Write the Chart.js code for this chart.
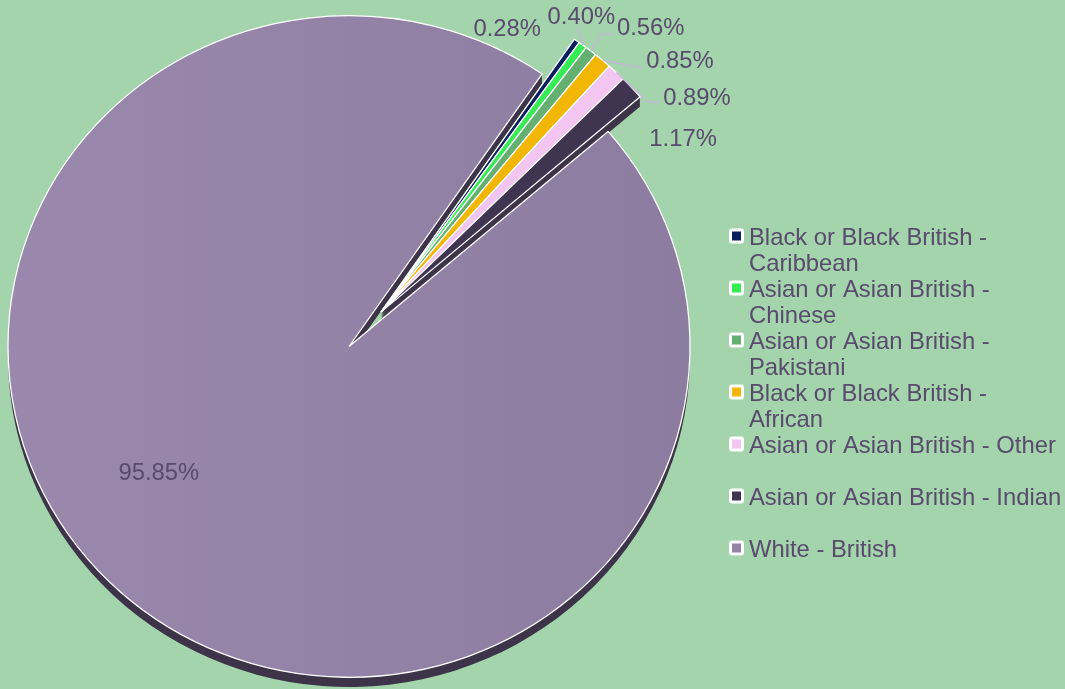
<!DOCTYPE html>
<html>
<head>
<meta charset="utf-8">
<script src="https://cdn.jsdelivr.net/npm/chart.js@4.4.1/dist/chart.umd.min.js"></script>
<style>
  html, body { margin: 0; padding: 0; background: #a3d4ab; }
  #wrap { width: 1065px; height: 689px; position: relative; }
</style>
</head>
<body>
<div id="wrap"><canvas id="ethnicPie"></canvas></div>
<script>
// data
const categories = [
    'Black or Black British - Caribbean',
    'Asian or Asian British - Chinese',
    'Asian or Asian British - Pakistani',
    'Black or Black British - African',
    'Asian or Asian British - Other',
    'Asian or Asian British - Indian',
    'White - British'
];
const shares = [0.28, 0.40, 0.56, 0.85, 0.89, 1.17, 95.85];
const sliceColours = ['#0b1f5e', '#35ec55', '#63b071', '#f2b705', '#f3c6f1', '#3f3550', '#9384a6'];

// look
const FONT = '23.8px "Liberation Sans", Arial, sans-serif';
const TEXT = '#594a6e';
const SQUASH = 0.97;      // pie is a touch flatter than round
const DEPTH = 10;         // height of the dark rim
const EXPLODE = 48;       // small slices pulled out together
// label placement: [angle shift from slice middle (deg), distance as part of radius]
const labelLayout = [[-8.6, 1.043], [-1.2, 1.187], [5.4, 1.289], [8.6, 1.284], [10.65, 1.257], [10.6, 1.156], [14.6, 0.668]];
// leader lines: [dx, dy from label centre, elbow length] or null
const leaders = [null, [-3, 13, 0], [-38, 7, 11], [-38, 8, 0], [-38, 6, 11], null, null];

function explodeVector(arcs, i) {
    if (i === arcs.length - 1) return { x: 0, y: 0 };
    const mid = (arcs[0].startAngle + arcs[arcs.length - 2].endAngle) / 2;
    return { x: Math.cos(mid) * EXPLODE, y: Math.sin(mid) * EXPLODE };
}

const pie3d = {
    id: 'pie3d',
    beforeDatasetsDraw(chart) {
        const ctx = chart.ctx;
        const arcs = chart.getDatasetMeta(0).data;
        const cy = arcs[0].y;
        ctx.save();
        ctx.translate(0, cy);
        ctx.scale(1, SQUASH);
        ctx.translate(0, -cy);

        // dark rim underneath
        ctx.fillStyle = '#3d3449';
        arcs.forEach((arc, i) => {
            const v = explodeVector(arcs, i);
            const x = arc.x + v.x, y = arc.y + v.y;
            ctx.beginPath();
            for (let d = 1; d <= DEPTH / SQUASH; d++) {
                ctx.moveTo(x, y + d);
                ctx.arc(x, y + d, arc.outerRadius, arc.startAngle, arc.endAngle);
                ctx.closePath();
            }
            ctx.fill();
        });

        arcs.forEach((arc, i) => {
            const v = explodeVector(arcs, i);
            ctx.save();
            ctx.translate(v.x, v.y);
            arc.draw(ctx);
            ctx.restore();
        });
        ctx.restore();
        return false;
    },
    afterDraw(chart) {
        const ctx = chart.ctx;
        const arcs = chart.getDatasetMeta(0).data;
        const cx = arcs[0].x, cy = arcs[0].y, r = arcs[0].outerRadius;
        const toScreen = (x, y) => ({ x: x, y: cy + (y - cy) * SQUASH });

        ctx.save();
        ctx.font = FONT;
        ctx.fillStyle = TEXT;
        ctx.textAlign = 'center';
        ctx.textBaseline = 'alphabetic';
        ctx.strokeStyle = '#c6b7d8';
        ctx.lineWidth = 1.5;

        arcs.forEach((arc, i) => {
            const mid = (arc.startAngle + arc.endAngle) / 2;
            const [shift, f] = labelLayout[i];
            const a = mid + shift * Math.PI / 180;
            const lx = cx + Math.cos(a) * r * f;
            const ly = cy + Math.sin(a) * r * f;
            ctx.fillText(shares[i].toFixed(2) + '%', lx, ly + 8.5);

            const ld = leaders[i];
            if (ld) {
                const v = explodeVector(arcs, i);
                const s = toScreen(arc.x + v.x + Math.cos(mid) * arc.outerRadius,
                                   arc.y + v.y + Math.sin(mid) * arc.outerRadius);
                const ex = lx + ld[0], ey = ly + ld[1];
                ctx.beginPath();
                ctx.moveTo(s.x, s.y);
                ctx.lineTo(ex - ld[2], ey);
                ctx.lineTo(ex, ey);
                ctx.stroke();
            }
        });

        // legend, each entry keeps two lines
        const legX = 729, textX = 749, top = 236, step = 52, lineH = 26;
        const maxW = 315;
        ctx.textAlign = 'left';
        chart.data.labels.forEach((label, i) => {
            const y = top + i * step;
            ctx.fillStyle = '#ffffff';
            ctx.beginPath();
            ctx.roundRect(legX, y - 7.5, 15, 15, 3);
            ctx.fill();
            ctx.fillStyle = sliceColours[i];
            ctx.fillRect(legX + 3, y - 4.5, 9, 9);

            const words = label.split(' ');
            const lines = [];
            let line = '';
            words.forEach(w => {
                const test = line ? line + ' ' + w : w;
                if (ctx.measureText(test).width > maxW && line) {
                    lines.push(line);
                    line = w;
                } else {
                    line = test;
                }
            });
            lines.push(line);
            ctx.fillStyle = TEXT;
            lines.forEach((t, k) => ctx.fillText(t, textX, y + k * lineH + 8.5));
        });
        ctx.restore();
    }
};

const ctx = document.getElementById('ethnicPie').getContext('2d');

new Chart(ctx, {
    type: 'pie',
    data: {
        labels: categories,
        datasets: [{
            data: shares,
            backgroundColor: (c) => {
                const area = c.chart.chartArea;
                if (c.dataIndex !== sliceColours.length - 1 || !area) return sliceColours[c.dataIndex];
                const g = c.chart.ctx.createLinearGradient(area.left, 0, area.right, 0);
                g.addColorStop(0, '#9a89ad');
                g.addColorStop(1, '#8c7ca0');
                return g;
            },
            borderColor: '#ffffff',
            borderWidth: 1.3,
            hoverOffset: 0
        }]
    },
    options: {
        responsive: true,
        maintainAspectRatio: false,
        animation: false,
        rotation: 34.5,
        radius: 341,
        layout: { padding: { left: 0, right: 367, top: 4, bottom: 0 } },
        plugins: {
            legend: { display: false },
            tooltip: { enabled: false }
        }
    },
    plugins: [pie3d]
});
</script>
</body>
</html>
